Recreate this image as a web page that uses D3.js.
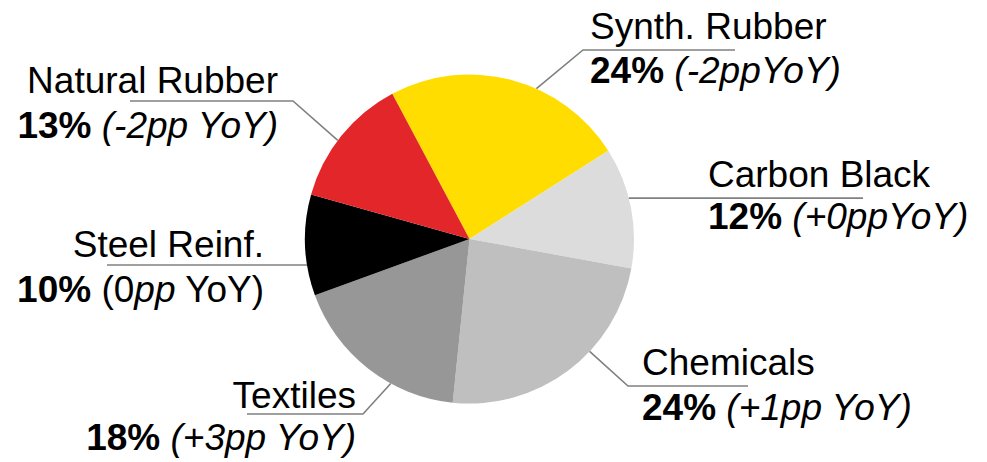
<!DOCTYPE html>
<html>
<head>
<meta charset="utf-8">
<script src="https://cdn.jsdelivr.net/npm/d3@7"></script>
<style>
  html, body { margin: 0; padding: 0; background: #fff; }
  svg { display: block; }
  text { font-family: "Liberation Sans", Arial, sans-serif; font-size: 37px; fill: #000; }
</style>
</head>
<body>
<svg id="chart" width="987" height="462"></svg>
<script>
// Composition of tyre raw materials (share, %)
const categories = ["Synth. Rubber", "Carbon Black", "Chemicals", "Textiles", "Steel Reinf.", "Natural Rubber"];
const shares = [24, 12, 24, 18, 10, 13];
// Year-on-year change, split into [text, italic] runs
const changes = [
  [["(-2ppYoY)", true]],
  [["(+0ppYoY)", true]],
  [["(+1pp YoY)", true]],
  [["(+3pp YoY)", true]],
  [["(0", false], ["pp", true], [" YoY)", false]],
  [["(-2pp YoY)", true]]
];
const colors = ["#FFDD00", "#DCDCDC", "#BFBFBF", "#979797", "#000000", "#E2262A"];

// Label placement: anchor angle on the rim (deg, clockwise from 12 o'clock),
// optional elbow point, end of the underline, text x / anchor, baselines.
const labelLayout = [
  { angle: 24,    elbow: [583, 50],  endX: 735, tx: 590, anchor: "start", y1: 39,  y2: 83 },
  { angle: 75.6,  elbow: null,       endX: 863, tx: 708, anchor: "start", y1: 187, y2: 229 },
  { angle: 133.1, elbow: [628, 386], endX: 748, tx: 642, anchor: "start", y1: 375, y2: 420 },
  { angle: 208.6, elbow: [363, 414], endX: 247, tx: 356, anchor: "end",   y1: 408, y2: 450 },
  { angle: 260.9, elbow: null,       endX: 107, tx: 264, anchor: "end",   y1: 257, y2: 302 },
  { angle: 306.8, elbow: [293, 101], endX: 130, tx: 278, anchor: "end",   y1: 93,  y2: 138 }
];

const cx = 469.5, cy = 239, radius = 164.5;
const startDeg = -28;

const data = categories.map((c, i) => ({ name: c, value: shares[i], change: changes[i], color: colors[i], layout: labelLayout[i] }));

const pie = d3.pie()
  .sort(null)
  .value(d => d.value)
  .startAngle(startDeg * Math.PI / 180)
  .endAngle(startDeg * Math.PI / 180 + 2 * Math.PI);

const arc = d3.arc().innerRadius(0).outerRadius(radius);

const svg = d3.select("#chart");
const g = svg.append("g").attr("transform", `translate(${cx},${cy})`);

g.selectAll("path.slice")
  .data(pie(data))
  .join("path")
  .attr("class", "slice")
  .attr("d", arc)
  .attr("fill", d => d.data.color);

// Leader lines
const rim = a => {
  const t = a * Math.PI / 180;
  return [cx + radius * Math.sin(t), cy - radius * Math.cos(t)];
};

const leaders = svg.append("g");
data.forEach(d => {
  const L = d.layout;
  const p0 = rim(L.angle);
  const pts = [p0];
  let y;
  if (L.elbow) { pts.push(L.elbow); y = L.elbow[1]; } else { y = p0[1]; }
  pts.push([L.endX, y]);
  leaders.append("path")
    .attr("d", d3.line()(pts))
    .attr("fill", "none")
    .attr("stroke", "#808080")
    .attr("stroke-width", 1.6);
});

// Labels
const labels = svg.append("g");
data.forEach(d => {
  const L = d.layout;
  labels.append("text")
    .attr("x", L.tx).attr("y", L.y1)
    .attr("text-anchor", L.anchor)
    .text(d.name);
  const t = labels.append("text")
    .attr("x", L.tx).attr("y", L.y2)
    .attr("text-anchor", L.anchor);
  t.append("tspan").attr("font-weight", "bold").text(d.value + "% ");
  d.change.forEach(([s, it]) => {
    t.append("tspan").attr("font-style", it ? "italic" : "normal").text(s);
  });
});
</script>
</body>
</html>
